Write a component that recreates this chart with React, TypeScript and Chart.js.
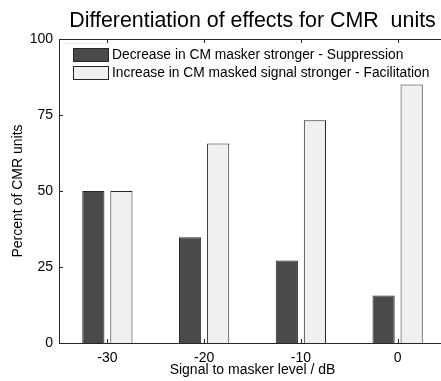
import React, { useEffect, useRef } from 'react';
import { Chart, registerables } from 'chart.js';

Chart.register(...registerables);

// Signal-to-masker levels (dB) and percentage of CMR units per effect
const levels = ['-30', '-20', '-10', '0'];
const suppression = [50, 34.8, 27.1, 15.6];
const facilitation = [50, 65.6, 73.3, 85.0];
const yTickValues = [0, 25, 50, 75, 100];
const seriesNames = [
  'Decrease in CM masker stronger - Suppression',
  'Increase in CM masked signal stronger - Facilitation',
];
const chartTitle = 'Differentiation of effects for CMR  units';
const xTitle = 'Signal to masker level / dB';
const yTitle = 'Percent of CMR units';

const FONT = '"Liberation Sans", Arial, Helvetica, sans-serif';
const AXIS = '#262626';
const DARK = '#4a4a4a';
const LIGHT = '#f0f0f0';
const EDGE = '#262626';

const CANVAS_W = 500;
const CANVAS_H = 381;
const PLOT_RIGHT = 446;

// Draws the top frame line, inward tick marks, title and the in-plot legend
const decorations = {
  id: 'decorations',
  afterDraw(chart: any) {
    const { ctx, chartArea } = chart;
    const { left, right, top, bottom } = chartArea;
    const xs = chart.scales.x;
    const ys = chart.scales.y;
    ctx.save();
    ctx.strokeStyle = AXIS;
    ctx.lineWidth = 1;
    ctx.beginPath();
    ctx.moveTo(left, top + 0.5);
    ctx.lineTo(right, top + 0.5);
    const tl = 4;
    levels.forEach((_, i) => {
      const px = Math.round(xs.getPixelForTick(i)) + 0.5;
      ctx.moveTo(px, bottom);
      ctx.lineTo(px, bottom - tl);
      ctx.moveTo(px, top);
      ctx.lineTo(px, top + tl);
    });
    yTickValues.forEach((v) => {
      const py = Math.round(ys.getPixelForValue(v)) + 0.5;
      ctx.moveTo(left, py);
      ctx.lineTo(left + tl, py);
    });
    ctx.stroke();

    // legend inside the axes
    const lx = 64;
    const ly = 43;
    const patchW = 36;
    const patchH = 14;
    ctx.font = `13.8px ${FONT}`;
    const boxW = 46;
    const boxH = 41;
    ctx.fillStyle = '#ffffff';
    ctx.fillRect(lx, ly, boxW, boxH);
    ctx.strokeStyle = '#ececec';
    ctx.beginPath();
    ctx.moveTo(lx, ly + 0.5);
    ctx.lineTo(lx + boxW, ly + 0.5);
    ctx.stroke();
    const fills = [DARK, LIGHT];
    seriesNames.forEach((name, i) => {
      const py = ly + 5 + i * 18;
      ctx.fillStyle = fills[i];
      ctx.fillRect(lx + 9, py, patchW, patchH);
      ctx.strokeStyle = EDGE;
      ctx.strokeRect(lx + 9.5, py + 0.5, patchW - 1, patchH - 1);
      ctx.fillStyle = '#000';
      ctx.textAlign = 'left';
      ctx.textBaseline = 'middle';
      ctx.fillText(name, lx + 9 + patchW + 3, py + patchH / 2 + 0.5);
    });

    // title
    ctx.font = `21.4px ${FONT}`;
    ctx.fillStyle = '#000';
    ctx.textAlign = 'center';
    ctx.textBaseline = 'alphabetic';
    ctx.fillText(chartTitle, (left + right) / 2, 27);
    ctx.restore();
  },
};

export default function App() {
  const canvasRef = useRef<HTMLCanvasElement | null>(null);

  useEffect(() => {
    const canvas = canvasRef.current;
    if (!canvas) return;
    const chart = new Chart(canvas, {
      type: 'bar',
      data: {
        labels: levels,
        datasets: [
          {
            label: seriesNames[0],
            data: suppression,
            backgroundColor: DARK,
            borderColor: EDGE,
            borderWidth: 1,
          },
          {
            label: seriesNames[1],
            data: facilitation,
            backgroundColor: LIGHT,
            borderColor: EDGE,
            borderWidth: 1,
          },
        ],
      },
      options: {
        responsive: false,
        animation: false,
        devicePixelRatio: 1,
        layout: { padding: { top: 39, right: CANVAS_W - PLOT_RIGHT, left: 0, bottom: 0 } },
        datasets: {
          bar: { categoryPercentage: 0.58, barPercentage: 0.79 },
        },
        plugins: {
          legend: { display: false },
          title: { display: false },
          tooltip: { enabled: false },
        },
        scales: {
          x: {
            type: 'category',
            offset: true,
            grid: { display: false, drawTicks: false },
            border: { display: true, color: AXIS, width: 1 },
            ticks: { color: '#000', font: { family: FONT, size: 14 }, padding: 7 },
            title: {
              display: true,
              text: xTitle,
              color: '#000',
              font: { family: FONT, size: 14 },
              padding: { top: 0, bottom: 2 },
            },
            afterFit(scale: any) {
              scale.height = 38;
            },
          },
          y: {
            min: 0,
            max: 100,
            grid: { display: false, drawTicks: false },
            border: { display: true, color: AXIS, width: 1 },
            afterBuildTicks(scale: any) {
              scale.ticks = yTickValues.map((v) => ({ value: v }));
            },
            ticks: { color: '#000', font: { family: FONT, size: 14 }, padding: 6 },
            title: {
              display: true,
              text: yTitle,
              color: '#000',
              font: { family: FONT, size: 14 },
              padding: { top: 10, bottom: 0 },
            },
            afterFit(scale: any) {
              scale.width = 59;
            },
          },
        },
      },
      plugins: [decorations],
    });
    return () => chart.destroy();
  }, []);

  return (
    <div
      style={{
        position: 'fixed',
        left: 0,
        top: 0,
        width: 441,
        height: 381,
        overflow: 'hidden',
        background: '#fff',
      }}
    >
      <canvas
        ref={canvasRef}
        width={CANVAS_W}
        height={CANVAS_H}
        style={{ display: 'block', width: CANVAS_W, height: CANVAS_H }}
      />
    </div>
  );
}
